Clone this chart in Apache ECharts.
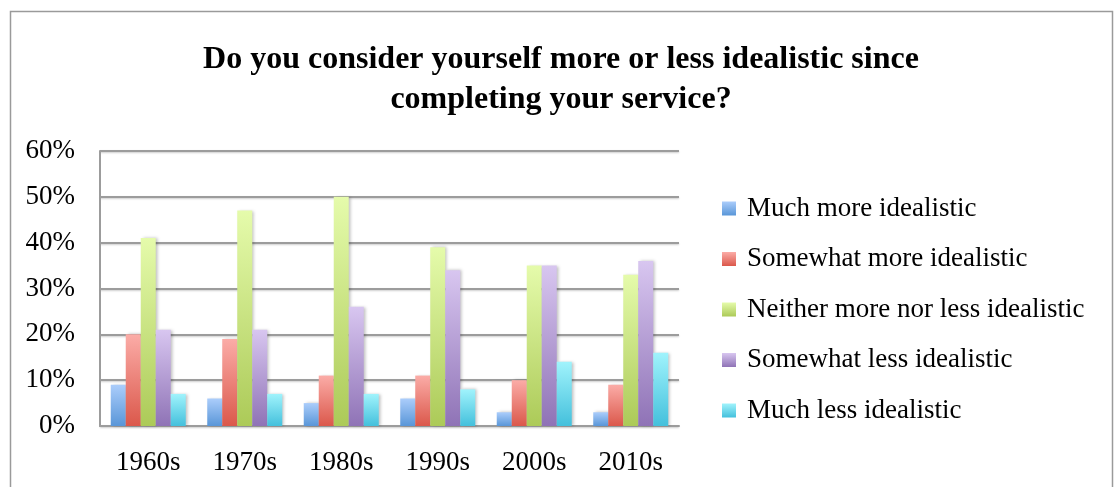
<!DOCTYPE html>
<html><head><meta charset="utf-8">
<script src="https://cdn.jsdelivr.net/npm/echarts@6/dist/echarts.min.js"></script>
<style>html,body{margin:0;padding:0;background:#fff}#c{width:1115px;height:487px}</style>
</head><body><div id="c"></div>
<script>
var categories = ['1960s','1970s','1980s','1990s','2000s','2010s'];
var seriesNames = ['Much more idealistic','Somewhat more idealistic','Neither more nor less idealistic','Somewhat less idealistic','Much less idealistic'];
var muchMore = [9, 6, 5, 6, 3, 3];
var somewhatMore = [20, 19, 11, 11, 10, 9];
var neither = [41, 47, 50, 39, 35, 33];
var somewhatLess = [21, 21, 26, 34, 35, 36];
var muchLess = [7, 7, 7, 8, 14, 16];
var yTicks = [0, 10, 20, 30, 40, 50, 60];

var values = [muchMore, somewhatMore, neither, somewhatLess, muchLess];
var grads = [['#abcdfb','#5996d8'],['#fbaca7','#db584b'],['#e5fbab','#acca58'],['#d8c6f0','#8f73b6'],['#a0f3fc','#44c0dc']];
var font = '"Liberation Serif","Times New Roman",serif';
function grad(c){return new echarts.graphic.LinearGradient(0,0,0,1,[{offset:0,color:c[0]},{offset:1,color:c[1]}]);}

var series = values.map(function(v,i){
  return {name:seriesNames[i],type:'bar',data:v,barWidth:15,barGap:'0%',
    itemStyle:{color:grad(grads[i]),shadowColor:'rgba(0,0,0,0.25)',shadowBlur:3,shadowOffsetX:2,shadowOffsetY:0},
    emphasis:{disabled:true}};
});

var chart = echarts.init(document.getElementById('c'));
chart.setOption({
  animation:false,
  title:{text:'Do you consider yourself more or less idealistic since\ncompleting your service?',left:561,top:40,textAlign:'center',padding:0,
    textStyle:{fontFamily:font,fontWeight:'bold',fontSize:32,color:'#000',lineHeight:40}},
  graphic:[{type:'rect',shape:{x:10.5,y:11.5,width:1102,height:500},style:{fill:'none',stroke:'#9a9a9a',lineWidth:1.5},silent:true}],
  legend:{orient:'vertical',left:717,top:190,itemWidth:14,itemHeight:14,itemGap:23.5,icon:'rect',
    textStyle:{fontFamily:font,fontSize:27,color:'#000',padding:[0,0,0,6]},data:seriesNames},
  grid:{left:100,right:436,top:151,bottom:61},
  xAxis:{type:'category',data:categories,
    axisLine:{lineStyle:{color:'#9c9c9c',width:2}},axisTick:{show:false},
    axisLabel:{fontFamily:font,fontSize:27,color:'#000',margin:23}},
  yAxis:{type:'value',min:0,max:60,interval:10,
    axisLine:{show:true,lineStyle:{color:'#9c9c9c',width:2}},axisTick:{show:false},
    splitLine:{lineStyle:{color:'#9c9c9c',width:2,shadowColor:'rgba(0,0,0,0.2)',shadowBlur:2,shadowOffsetY:1}},
    axisLabel:{fontFamily:font,fontSize:27,color:'#000',margin:25,formatter:function(v){return yTicks.indexOf(v)>=0? v+'%':'';}}},
  series:series
});
</script></body></html>
